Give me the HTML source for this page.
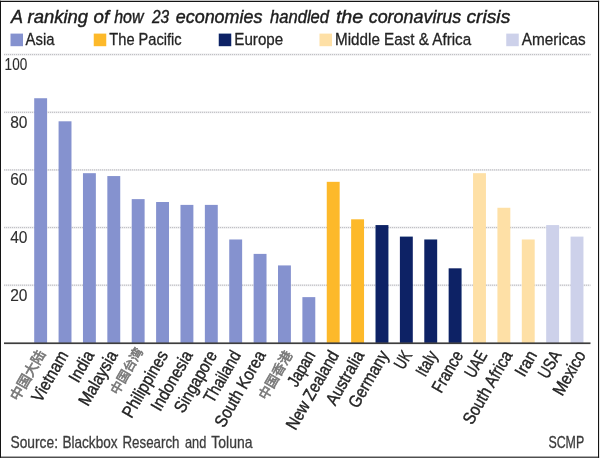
<!DOCTYPE html>
<html lang="en"><head><meta charset="utf-8"><title>Coronavirus crisis ranking</title>
<style>
html,body{margin:0;padding:0;background:#fff;}
body{width:600px;height:460px;overflow:hidden;}
svg{display:block;}
text{font-family:"Liberation Sans", "Noto Sans CJK SC", sans-serif;fill:#242424;stroke:#242424;stroke-width:0.3px;}
.lb{stroke-width:0.4px;}
.tt text{stroke-width:0.42px;fill:#1c1c1c;stroke:#1c1c1c;}
.ax{stroke-width:0.12px;fill:#2e2e2e;stroke:#2e2e2e;}
.cjk{font-family:"Liberation Sans","Noto Sans CJK SC",sans-serif;fill:#787878;stroke:#787878;stroke-width:0.65px;}
.ft{fill:#3c3c3c;stroke:#3c3c3c;}
</style></head><body>
<svg width="600" height="460" viewBox="0 0 600 460">
<rect x="0" y="0" width="600" height="460" fill="#fff"/>
<g fill="#141414"><rect x="0" y="0.75" width="1" height="457"/><rect x="0" y="0.75" width="599.1" height="1.25"/><rect x="598" y="0.75" width="1.1" height="457"/><rect x="0" y="456.65" width="599.1" height="1.1"/></g>
<defs><filter id="soft" x="-2%" y="-2%" width="104%" height="104%"><feGaussianBlur stdDeviation="0.35"/></filter></defs>
<g filter="url(#soft)">

<g class="tt" font-size="18.4" font-style="italic"><text x="11.0" y="23" textLength="12.0" lengthAdjust="spacingAndGlyphs">A</text> <text x="27.5" y="23" textLength="60.6" lengthAdjust="spacingAndGlyphs">ranking</text> <text x="93.5" y="23" textLength="15.6" lengthAdjust="spacingAndGlyphs">of</text> <text x="114.2" y="23" textLength="29.3" lengthAdjust="spacingAndGlyphs">how</text> <text x="151.9" y="23" textLength="17.2" lengthAdjust="spacingAndGlyphs">23</text> <text x="175.7" y="23" textLength="86.8" lengthAdjust="spacingAndGlyphs">economies</text> <text x="270.0" y="23" textLength="59.1" lengthAdjust="spacingAndGlyphs">handled</text> <text x="335.9" y="23" textLength="27.4" lengthAdjust="spacingAndGlyphs">the</text> <text x="368.7" y="23" textLength="92.6" lengthAdjust="spacingAndGlyphs">coronavirus</text> <text x="466.4" y="23" textLength="43.9" lengthAdjust="spacingAndGlyphs">crisis</text></g>
<rect x="10.50" y="33.6" width="12.5" height="12.6" fill="#8592cf"/>
<text x="25.55" y="45.3" font-size="17.1" textLength="28.90" lengthAdjust="spacingAndGlyphs">Asia</text>
<rect x="93.75" y="33.6" width="12.5" height="12.6" fill="#fdb92a"/>
<text x="109.30" y="45.3" font-size="17.1" textLength="72.40" lengthAdjust="spacingAndGlyphs">The Pacific</text>
<rect x="218.75" y="33.6" width="12.5" height="12.6" fill="#0b2265"/>
<text x="234.30" y="45.3" font-size="17.1" textLength="48.90" lengthAdjust="spacingAndGlyphs">Europe</text>
<rect x="319.50" y="33.6" width="12.5" height="12.6" fill="#fee0a6"/>
<text x="335.05" y="45.3" font-size="17.1" textLength="136.15" lengthAdjust="spacingAndGlyphs">Middle East &amp; Africa</text>
<rect x="506.25" y="33.6" width="12.5" height="12.6" fill="#cdd1ea"/>
<text x="521.80" y="45.3" font-size="17.1" textLength="63.90" lengthAdjust="spacingAndGlyphs">Americas</text>
<line x1="4" x2="590.5" y1="54.6" y2="54.6" stroke="#ececee" stroke-width="2"/>
<line x1="4" x2="590.5" y1="54.6" y2="54.6" stroke="#bcbcc0" stroke-width="1" stroke-dasharray="1 1"/>
<text class="ax" x="4.6" y="70.1" font-size="15.9" textLength="22.6" lengthAdjust="spacingAndGlyphs">100</text>
<line x1="4" x2="590.5" y1="112.3" y2="112.3" stroke="#ececee" stroke-width="2"/>
<line x1="4" x2="590.5" y1="112.3" y2="112.3" stroke="#bcbcc0" stroke-width="1" stroke-dasharray="1 1"/>
<text class="ax" x="10.2" y="127.8" font-size="15.9" textLength="17.3" lengthAdjust="spacingAndGlyphs">80</text>
<line x1="4" x2="590.5" y1="169.9" y2="169.9" stroke="#ececee" stroke-width="2"/>
<line x1="4" x2="590.5" y1="169.9" y2="169.9" stroke="#bcbcc0" stroke-width="1" stroke-dasharray="1 1"/>
<text class="ax" x="10.2" y="185.4" font-size="15.9" textLength="17.3" lengthAdjust="spacingAndGlyphs">60</text>
<line x1="4" x2="590.5" y1="227.6" y2="227.6" stroke="#ececee" stroke-width="2"/>
<line x1="4" x2="590.5" y1="227.6" y2="227.6" stroke="#bcbcc0" stroke-width="1" stroke-dasharray="1 1"/>
<text class="ax" x="10.2" y="243.1" font-size="15.9" textLength="17.3" lengthAdjust="spacingAndGlyphs">40</text>
<line x1="4" x2="590.5" y1="285.2" y2="285.2" stroke="#ececee" stroke-width="2"/>
<line x1="4" x2="590.5" y1="285.2" y2="285.2" stroke="#bcbcc0" stroke-width="1" stroke-dasharray="1 1"/>
<text class="ax" x="10.2" y="300.8" font-size="15.9" textLength="17.3" lengthAdjust="spacingAndGlyphs">20</text>
<rect x="34.20" y="98.24" width="12.90" height="244.66" fill="#8592cf"/>
<rect x="58.58" y="121.30" width="12.90" height="221.60" fill="#8592cf"/>
<rect x="82.96" y="173.18" width="12.90" height="169.72" fill="#8592cf"/>
<rect x="107.34" y="176.06" width="12.90" height="166.84" fill="#8592cf"/>
<rect x="131.72" y="199.12" width="12.90" height="143.78" fill="#8592cf"/>
<rect x="156.10" y="202.01" width="12.90" height="140.89" fill="#8592cf"/>
<rect x="180.48" y="204.89" width="12.90" height="138.01" fill="#8592cf"/>
<rect x="204.86" y="204.89" width="12.90" height="138.01" fill="#8592cf"/>
<rect x="229.24" y="239.48" width="12.90" height="103.42" fill="#8592cf"/>
<rect x="253.62" y="253.89" width="12.90" height="89.01" fill="#8592cf"/>
<rect x="278.00" y="265.42" width="12.90" height="77.48" fill="#8592cf"/>
<rect x="302.38" y="297.13" width="12.90" height="45.77" fill="#8592cf"/>
<rect x="326.76" y="181.83" width="12.90" height="161.07" fill="#fdb92a"/>
<rect x="351.14" y="219.30" width="12.90" height="123.60" fill="#fdb92a"/>
<rect x="375.52" y="225.07" width="12.90" height="117.83" fill="#0b2265"/>
<rect x="399.90" y="236.60" width="12.90" height="106.30" fill="#0b2265"/>
<rect x="424.28" y="239.48" width="12.90" height="103.42" fill="#0b2265"/>
<rect x="448.66" y="268.31" width="12.90" height="74.59" fill="#0b2265"/>
<rect x="473.04" y="173.18" width="12.90" height="169.72" fill="#fee0a6"/>
<rect x="497.42" y="207.77" width="12.90" height="135.13" fill="#fee0a6"/>
<rect x="521.80" y="239.48" width="12.90" height="103.42" fill="#fee0a6"/>
<rect x="546.18" y="225.07" width="12.90" height="117.83" fill="#cdd1ea"/>
<rect x="570.56" y="236.60" width="12.90" height="106.30" fill="#cdd1ea"/>
<rect x="4" y="342.4" width="586.5" height="1.7" fill="#3c3c3c"/>
<text class="cjk" transform="translate(45.9 353.6) rotate(-60)" text-anchor="end" font-size="13.9">中国大陆</text>
<text class="lb" transform="translate(68.8 355.0) rotate(-60) scale(0.872 1)" text-anchor="end" font-size="17.5">Vietnam</text>
<text class="lb" transform="translate(94.7 355.0) rotate(-60) scale(0.872 1)" text-anchor="end" font-size="17.5">India</text>
<text class="lb" transform="translate(118.2 355.0) rotate(-60) scale(0.872 1)" text-anchor="end" font-size="17.5">Malaysia</text>
<text class="cjk" transform="translate(143.4 351.1) rotate(-60)" text-anchor="end" font-size="12.8">中国台湾</text>
<text class="lb" transform="translate(168.5 355.0) rotate(-60) scale(0.872 1)" text-anchor="end" font-size="17.5">Philippines</text>
<text class="lb" transform="translate(193.2 355.0) rotate(-60) scale(0.872 1)" text-anchor="end" font-size="17.5">Indonesia</text>
<text class="lb" transform="translate(217.6 355.0) rotate(-60) scale(0.853 1)" text-anchor="end" font-size="17.5">Singapore</text>
<text class="lb" transform="translate(241.4 355.0) rotate(-60) scale(0.843 1)" text-anchor="end" font-size="17.5">Thailand</text>
<text class="lb" transform="translate(266.3 355.0) rotate(-60) scale(0.872 1)" text-anchor="end" font-size="17.5">South Korea</text>
<text class="cjk" transform="translate(292.9 354.6) rotate(-60)" text-anchor="end" font-size="13.3">中国香港</text>
<text class="lb" transform="translate(315.8 355.0) rotate(-60) scale(0.797 1)" text-anchor="end" font-size="17.5">Japan</text>
<text class="lb" transform="translate(339.5 355.0) rotate(-60) scale(0.853 1)" text-anchor="end" font-size="17.5">New Zealand</text>
<text class="lb" transform="translate(364.8 355.0) rotate(-60) scale(0.872 1)" text-anchor="end" font-size="17.5">Australia</text>
<text class="lb" transform="translate(389.2 355.0) rotate(-60) scale(0.872 1)" text-anchor="end" font-size="17.5">Germany</text>
<text class="lb" transform="translate(412.6 355.0) rotate(-60) scale(0.740 1)" text-anchor="end" font-size="17.5">UK</text>
<text class="lb" transform="translate(438.2 355.0) rotate(-60) scale(0.815 1)" text-anchor="end" font-size="17.5">Italy</text>
<text class="lb" transform="translate(463.7 355.0) rotate(-60) scale(0.825 1)" text-anchor="end" font-size="17.5">France</text>
<text class="lb" transform="translate(487.7 355.0) rotate(-60) scale(0.768 1)" text-anchor="end" font-size="17.5">UAE</text>
<text class="lb" transform="translate(512.9 355.0) rotate(-60) scale(0.862 1)" text-anchor="end" font-size="17.5">South Africa</text>
<text class="lb" transform="translate(537.5 355.0) rotate(-60) scale(0.872 1)" text-anchor="end" font-size="17.5">Iran</text>
<text class="lb" transform="translate(561.9 355.0) rotate(-60) scale(0.797 1)" text-anchor="end" font-size="17.5">USA</text>
<text class="lb" transform="translate(586.3 355.0) rotate(-60) scale(0.872 1)" text-anchor="end" font-size="17.5">Mexico</text>
<g font-size="15.7"><text class="ft" x="10.5" y="447.6" textLength="47.5" lengthAdjust="spacingAndGlyphs">Source:</text> <text class="ft" x="62.5" y="447.6" textLength="55.0" lengthAdjust="spacingAndGlyphs">Blackbox</text> <text class="ft" x="122.5" y="447.6" textLength="57.0" lengthAdjust="spacingAndGlyphs">Research</text> <text class="ft" x="185.0" y="447.6" textLength="21.3" lengthAdjust="spacingAndGlyphs">and</text> <text class="ft" x="211.3" y="447.6" textLength="41.2" lengthAdjust="spacingAndGlyphs">Toluna</text></g>
<text class="ft" x="548.4" y="448" font-size="15.8" textLength="35.8" lengthAdjust="spacingAndGlyphs">SCMP</text>
</g></svg></body></html>
